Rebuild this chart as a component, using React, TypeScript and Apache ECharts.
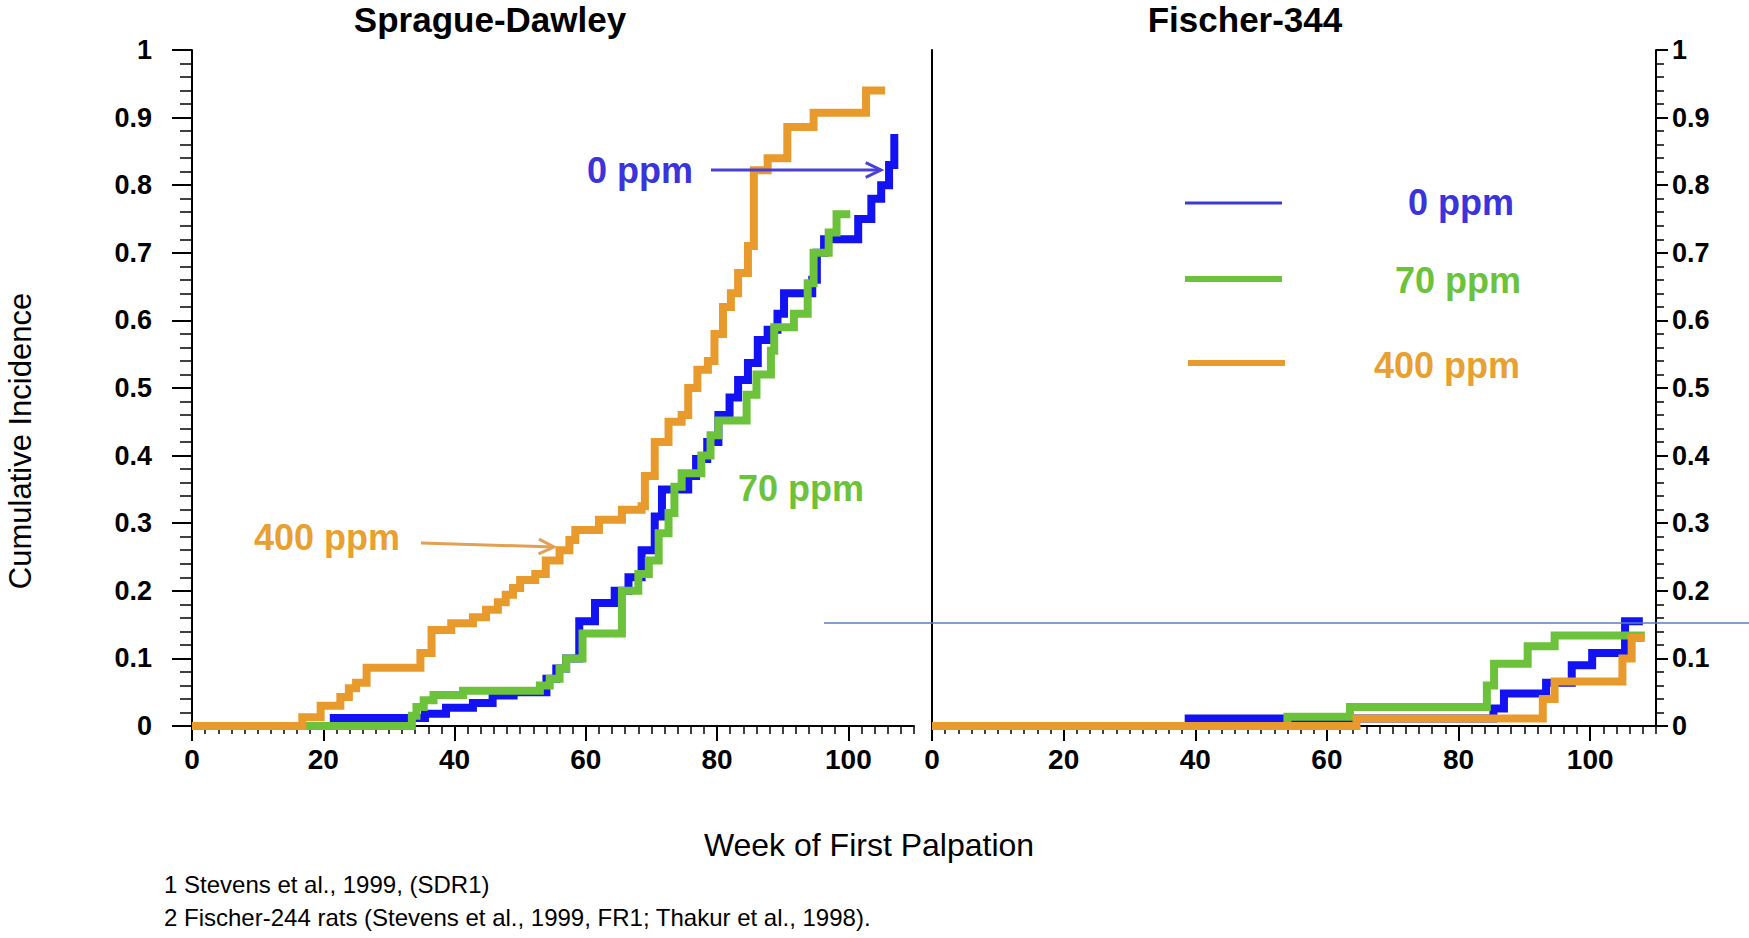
import React, { useEffect, useRef } from 'react';
import * as echarts from 'echarts';

// ---- Data: [week, cumulative incidence] (Kaplan-Meier style steps) ----
const sdBlue: [number, number][] = [
  [0, 0], [21.6, 0.012], [35.5, 0.018], [38.7, 0.027], [42.8, 0.034], [45.8, 0.045], [49, 0.05],
  [54, 0.07], [55.5, 0.085], [57, 0.1], [59, 0.155], [61.4, 0.182], [64.4, 0.2], [66.5, 0.22],
  [68.5, 0.26], [70.5, 0.31], [71.6, 0.35], [75.6, 0.37], [76.8, 0.395], [78.5, 0.42], [80.2, 0.46],
  [81.9, 0.486], [83.2, 0.512], [84.7, 0.537], [86.2, 0.571], [87.7, 0.586], [89.2, 0.61], [90.2, 0.64],
  [94.5, 0.66], [95.2, 0.7], [96.3, 0.72], [101.5, 0.75], [103.5, 0.78], [105, 0.8], [106.2, 0.83],
  [107, 0.87], [107.6, 0.87],
];
const sdGreen: [number, number][] = [
  [0, 0], [33.5, 0.015], [34.2, 0.028], [35.3, 0.038], [36.8, 0.046], [41.3, 0.052], [53, 0.06],
  [54.5, 0.07], [56, 0.085], [57, 0.1], [59.5, 0.137], [65.5, 0.2], [68, 0.225], [69.6, 0.245],
  [71.1, 0.285], [72.6, 0.315], [73.5, 0.354], [74.6, 0.374], [77.6, 0.4], [79, 0.43], [80.2, 0.452],
  [84.5, 0.49], [86, 0.52], [88.2, 0.555], [88.7, 0.59], [91.7, 0.61], [93.8, 0.655], [94.7, 0.7],
  [97, 0.73], [98.2, 0.757], [100.3, 0.757],
];
const sdOrange: [number, number][] = [
  [0, 0], [16.8, 0.013], [19.6, 0.03], [22.6, 0.043], [23.9, 0.056], [25, 0.064], [26.6, 0.086],
  [34.8, 0.108], [36.5, 0.142], [39.5, 0.152], [42.8, 0.161], [44.8, 0.172], [46.6, 0.183],
  [47.8, 0.194], [48.9, 0.204], [50, 0.216], [52.3, 0.225], [53.9, 0.245], [56, 0.26], [57.5, 0.275],
  [58.4, 0.29], [62, 0.305], [65.5, 0.32], [68.5, 0.325], [69, 0.37], [70.5, 0.42], [72.6, 0.45],
  [74.6, 0.46], [75.6, 0.5], [77, 0.527], [78.6, 0.54], [79.6, 0.58], [80.9, 0.62], [82.1, 0.64],
  [83.2, 0.67], [84.7, 0.71], [85.6, 0.822], [87.7, 0.84], [90.7, 0.886], [94.7, 0.907],
  [102.7, 0.94], [105.6, 0.94],
];
const fBlue: [number, number][] = [
  [0, 0], [39, 0.011], [85.3, 0.026], [86.9, 0.048], [93.3, 0.064], [97.2, 0.09], [100.3, 0.108],
  [105.3, 0.155], [108, 0.155],
];
const fGreen: [number, number][] = [
  [0, 0], [54, 0.0137], [63.5, 0.028], [84.3, 0.06], [85.4, 0.092], [90.5, 0.118],
  [94.6, 0.134], [108.3, 0.134],
];
const fOrange: [number, number][] = [
  [0, 0], [64.5, 0.011], [92.8, 0.04], [94.6, 0.066], [104.9, 0.1], [106.3, 0.13], [108.3, 0.13],
];

const panelTitles = ['Sprague-Dawley', 'Fischer-344'];
const doseLabels = ['0 ppm', '70 ppm', '400 ppm'];
const yAxisTitle = 'Cumulative Incidence';
const xAxisTitle = 'Week of First Palpation';
const footnotes = [
  '1 Stevens et al., 1999, (SDR1)',
  '2 Fischer-244 rats (Stevens et al., 1999, FR1; Thakur et al., 1998).',
];

const C_BLUE = '#1212f2';
const C_GREEN = '#6cc23a';
const C_ORANGE = '#e99a2c';
const T_BLUE = '#3b33dc';
const T_GREEN = '#6cc23a';
const T_ORANGE = '#e8a030';
const FONT = '"Liberation Sans", Arial, Helvetica, sans-serif';

const GRID_TOP = 50;
const GRID_H = 676;
const L_LEFT = 192;
const L_W = 722;
const R_LEFT = 932;
const R_W = 724;
const X_MAX = 110;

function minorXAxis(gridIndex: number) {
  return {
    type: 'value', gridIndex, min: 0, max: X_MAX, interval: 2, position: 'bottom',
    axisLine: { show: true, onZero: false, lineStyle: { color: '#000', width: 2 } },
    axisTick: { show: true, length: 8, lineStyle: { color: '#000', width: 1.5 } },
    axisLabel: { show: false }, splitLine: { show: false },
  };
}
function majorXAxis(gridIndex: number) {
  return {
    type: 'value', gridIndex, min: 0, max: 100, interval: 20, position: 'bottom',
    axisLine: { show: false, onZero: false },
    axisTick: { show: true, length: 15, lineStyle: { color: '#000', width: 2 } },
    axisLabel: { color: '#000', fontFamily: FONT, fontWeight: 'bold', fontSize: 28, margin: 19 },
    splitLine: { show: false },
  };
}
function mainYAxis(gridIndex: number, position: 'left' | 'right', tickLen: number, minorLen: number, margin: number) {
  return {
    type: 'value', gridIndex, min: 0, max: 1, interval: 0.1, position,
    axisLine: { show: true, onZero: false, lineStyle: { color: '#000', width: 2 } },
    axisTick: { show: true, length: tickLen, lineStyle: { color: '#000', width: 2 } },
    minorTick: { show: true, splitNumber: 5, length: minorLen, lineStyle: { color: '#000', width: 1.5 } },
    axisLabel: { color: '#000', fontFamily: FONT, fontWeight: 'bold', fontSize: 27, margin },
    splitLine: { show: false }, minorSplitLine: { show: false },
  };
}
function stepSeries(data: [number, number][], color: string, xi: number, yi: number, z: number) {
  return {
    type: 'line', data, xAxisIndex: xi, yAxisIndex: yi, step: 'end', symbol: 'none', clip: false,
    silent: true, z, lineStyle: { color, width: 8, join: 'miter', cap: 'butt' },
  };
}
function txt(text: string, x: number, y: number, fill: string, size: number, weight: string, align = 'center', rotation = 0) {
  return {
    type: 'text', x, y, rotation, z: 50,
    style: {
      text, fill, font: `${weight} ${size}px ${FONT}`,
      textAlign: align, align, textVerticalAlign: 'middle', verticalAlign: 'middle',
    },
  };
}
function seg(x1: number, y1: number, x2: number, y2: number, stroke: string, lineWidth: number) {
  return { type: 'line', z: 50, shape: { x1, y1, x2, y2 }, style: { stroke, lineWidth } };
}
function arrow(x1: number, y1: number, x2: number, y2: number, stroke: string) {
  const ang = Math.atan2(y2 - y1, x2 - x1);
  const L = 17, W = 0.45;
  return [
    seg(x1, y1, x2, y2, stroke, 3),
    {
      type: 'polyline', z: 50,
      shape: {
        points: [
          [x2 - L * Math.cos(ang - W), y2 - L * Math.sin(ang - W)],
          [x2, y2],
          [x2 - L * Math.cos(ang + W), y2 - L * Math.sin(ang + W)],
        ],
      },
      style: { stroke, lineWidth: 3, fill: 'none' },
    },
  ];
}

export default function App() {
  const ref = useRef<HTMLDivElement>(null);
  useEffect(() => {
    document.body.style.margin = '0';
    const chart = echarts.init(ref.current!, null, { renderer: 'svg' });
    const option: any = {
      animation: false,
      backgroundColor: '#fff',
      grid: [
        { left: L_LEFT, top: GRID_TOP, width: L_W, height: GRID_H },
        { left: L_LEFT, top: GRID_TOP, width: (L_W * 100) / X_MAX, height: GRID_H },
        { left: R_LEFT, top: GRID_TOP, width: R_W, height: GRID_H },
        { left: R_LEFT, top: GRID_TOP, width: (R_W * 100) / X_MAX, height: GRID_H },
      ],
      xAxis: [minorXAxis(0), majorXAxis(1), minorXAxis(2), majorXAxis(3)],
      yAxis: [
        mainYAxis(0, 'left', 20, 12, 40),
        { type: 'value', gridIndex: 1, min: 0, max: 1, show: false },
        mainYAxis(2, 'right', 12, 8, 16),
        {
          type: 'value', gridIndex: 2, min: 0, max: 1, position: 'left',
          axisLine: { show: true, onZero: false, lineStyle: { color: '#000', width: 2 } },
          axisTick: { show: false }, axisLabel: { show: false }, splitLine: { show: false },
        },
        { type: 'value', gridIndex: 3, min: 0, max: 1, show: false },
      ],
      series: [
        stepSeries(sdBlue, C_BLUE, 0, 0, 3),
        stepSeries(sdGreen, C_GREEN, 0, 0, 4),
        stepSeries(sdOrange, C_ORANGE, 0, 0, 5),
        stepSeries(fBlue, C_BLUE, 2, 2, 3),
        stepSeries(fGreen, C_GREEN, 2, 2, 4),
        stepSeries(fOrange, C_ORANGE, 2, 2, 5),
      ],
      graphic: [
        txt(panelTitles[0], 490, 19, '#000', 35, 'bold'),
        txt(panelTitles[1], 1245, 19, '#000', 35, 'bold'),
        txt(yAxisTitle, 20, 441, '#000', 31, 'normal', 'center', Math.PI / 2),
        txt(xAxisTitle, 869, 845, '#000', 32, 'normal'),
        txt(footnotes[0], 164, 884, '#000', 24, 'normal', 'left'),
        txt(footnotes[1], 164, 917, '#000', 24, 'normal', 'left'),
        // annotations on the Sprague-Dawley panel
        txt(doseLabels[0], 640, 170, T_BLUE, 36, 'bold'),
        ...arrow(711, 170, 881, 170, '#4a40d8'),
        txt(doseLabels[1], 801, 488, T_GREEN, 36, 'bold'),
        txt(doseLabels[2], 327, 537, T_ORANGE, 36, 'bold'),
        ...arrow(421, 543, 554, 547, '#e3a055'),
        // legend on the Fischer-344 panel
        seg(1185, 203, 1282, 203, '#3a3ad6', 3),
        seg(1185, 279, 1282, 279, C_GREEN, 6),
        seg(1188, 363, 1285, 363, C_ORANGE, 6),
        txt(doseLabels[0], 1461, 202, T_BLUE, 36, 'bold'),
        txt(doseLabels[1], 1458, 280, T_GREEN, 36, 'bold'),
        txt(doseLabels[2], 1447, 365, T_ORANGE, 36, 'bold'),
        // reference line
        seg(824, 623, 1749, 623, '#5a7cbc', 1.5),
      ],
    };
    chart.setOption(option);
    return () => chart.dispose();
  }, []);
  return <div ref={ref} style={{ width: 1749, height: 938 }} />;
}
